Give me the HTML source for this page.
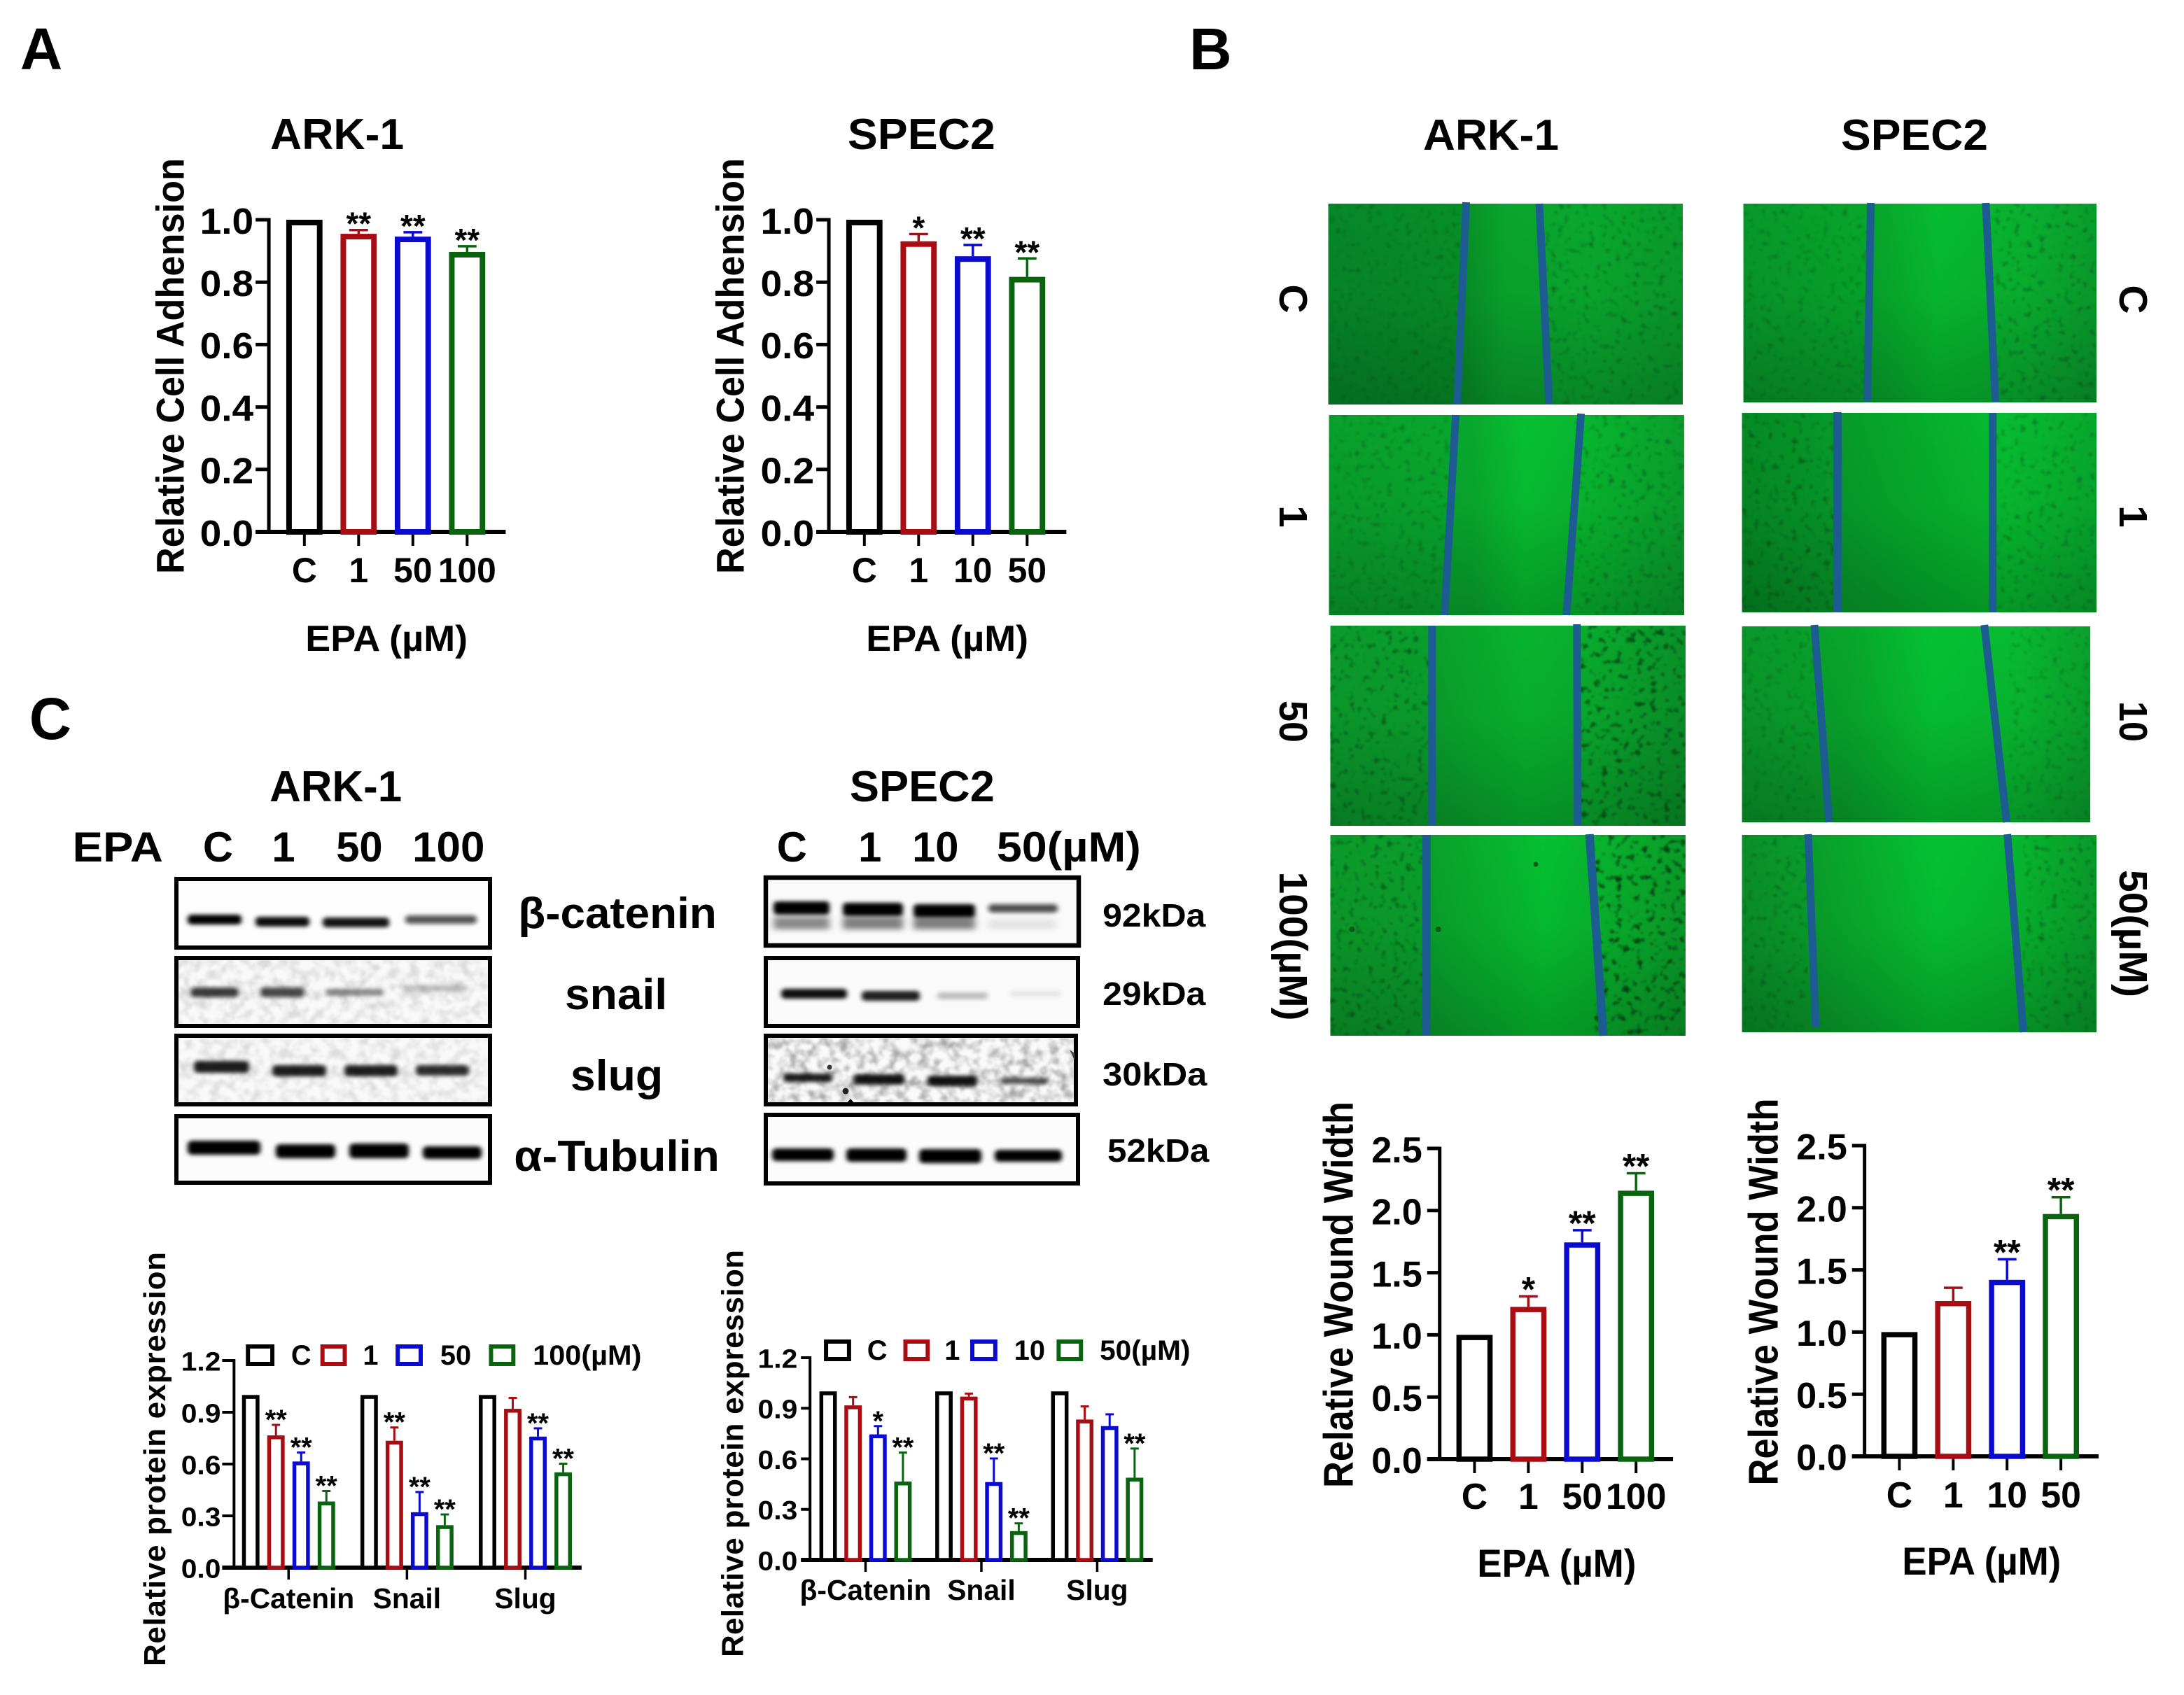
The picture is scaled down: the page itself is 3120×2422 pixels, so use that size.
<!DOCTYPE html>
<html lang="en">
<head>
<meta charset="utf-8">
<title>EPA adhesion, wound healing and EMT protein figure</title>
<style>
html,body{margin:0;padding:0;background:#fff;}
svg{display:block;}
text{font-family:"Liberation Sans",Arial,sans-serif;font-weight:bold;fill:#000;}
</style>
</head>
<body>
<svg id="figure" xmlns="http://www.w3.org/2000/svg" width="3120" height="2422" viewBox="0 0 3120 2422">
<defs>
  <filter id="blur3" x="-30%" y="-150%" width="160%" height="400%"><feGaussianBlur stdDeviation="3.5 2.8"/></filter>
  <filter id="blur7" x="-30%" y="-150%" width="160%" height="400%"><feGaussianBlur stdDeviation="5 4"/></filter>
  <filter id="speck" x="0" y="0" width="1" height="1" color-interpolation-filters="sRGB"><feTurbulence type="fractalNoise" baseFrequency="0.11" numOctaves="2" seed="3"/><feColorMatrix values="0 0 0 0 0  0 0 0 0 .3  0 0 0 0 .08  3.5 0 0 0 -2.05"/><feGaussianBlur stdDeviation="1.3"/></filter>
  <filter id="speckDark" x="0" y="0" width="1" height="1" color-interpolation-filters="sRGB"><feTurbulence type="fractalNoise" baseFrequency="0.1" numOctaves="3" seed="11"/><feColorMatrix values="0 0 0 0 0  0 0 0 0 .25  0 0 0 0 .06  6 0 0 0 -3.5"/><feGaussianBlur stdDeviation="1.3"/></filter>
  <filter id="blotNoise" x="0" y="0" width="1" height="1" color-interpolation-filters="sRGB"><feTurbulence type="fractalNoise" baseFrequency="0.07" numOctaves="3" seed="7"/><feColorMatrix values="0 0 0 0 .35  0 0 0 0 .35  0 0 0 0 .35  2.6 0 0 0 -1.05"/><feGaussianBlur stdDeviation="1.2"/></filter>
  <linearGradient id="shade" x1="0" y1="0" x2="0" y2="1"><stop offset="0" stop-color="#000" stop-opacity="0"/><stop offset=".45" stop-color="#000" stop-opacity=".04"/><stop offset="1" stop-color="#000" stop-opacity=".2"/></linearGradient>
  <linearGradient id="gL1"><stop offset="0" stop-color="#07872a"/><stop offset=".38" stop-color="#078f26"/><stop offset=".5" stop-color="#09a52d"/><stop offset=".75" stop-color="#0aa82e"/><stop offset="1" stop-color="#0a9a2b"/></linearGradient>
  <linearGradient id="gR1"><stop offset="0" stop-color="#08982a"/><stop offset=".4" stop-color="#07a82c"/><stop offset=".55" stop-color="#06bc30"/><stop offset=".8" stop-color="#09b030"/><stop offset="1" stop-color="#0a9c2c"/></linearGradient>
  <linearGradient id="gL2"><stop offset="0" stop-color="#0a9f2c"/><stop offset=".4" stop-color="#08a82e"/><stop offset=".55" stop-color="#07c030"/><stop offset=".75" stop-color="#08b42f"/><stop offset="1" stop-color="#0a9e2c"/></linearGradient>
  <linearGradient id="gR2"><stop offset="0" stop-color="#058a24"/><stop offset=".27" stop-color="#079a2a"/><stop offset=".55" stop-color="#05b02d"/><stop offset=".75" stop-color="#07bc30"/><stop offset="1" stop-color="#08a82e"/></linearGradient>
  <linearGradient id="gL3"><stop offset="0" stop-color="#0b9a2c"/><stop offset=".3" stop-color="#0a9f2c"/><stop offset=".55" stop-color="#07b42f"/><stop offset=".72" stop-color="#09ac2e"/><stop offset="1" stop-color="#0a9028"/></linearGradient>
  <linearGradient id="gR3"><stop offset="0" stop-color="#0a962a"/><stop offset=".3" stop-color="#08a42c"/><stop offset=".55" stop-color="#05c232"/><stop offset=".8" stop-color="#08b831"/><stop offset="1" stop-color="#0aa02c"/></linearGradient>
  <linearGradient id="gL4"><stop offset="0" stop-color="#0c9a2a"/><stop offset=".27" stop-color="#0a9f2c"/><stop offset=".6" stop-color="#05c030"/><stop offset=".75" stop-color="#08b42e"/><stop offset="1" stop-color="#0a9a28"/></linearGradient>
  <linearGradient id="gR4"><stop offset="0" stop-color="#0a8f28"/><stop offset=".22" stop-color="#09a02b"/><stop offset=".55" stop-color="#05c232"/><stop offset=".77" stop-color="#07b62f"/><stop offset="1" stop-color="#0a9a2b"/></linearGradient>
</defs>
<rect width="3120" height="2422" fill="#fff"/>

<!-- Panel B letter and titles -->
<text x="1699" y="99" font-size="84">B</text>
<text x="2130" y="214" font-size="62" text-anchor="middle" textLength="194" lengthAdjust="spacingAndGlyphs">ARK-1</text>
<text x="2735" y="214" font-size="62" text-anchor="middle" textLength="210" lengthAdjust="spacingAndGlyphs">SPEC2</text>

<g transform="scale(.995 1)">
<text x="29" y="99" font-size="84">A</text>
<text x="42" y="1056" font-size="84">C</text>
<text x="484" y="213" font-size="62" text-anchor="middle" textLength="192" lengthAdjust="spacingAndGlyphs">ARK-1</text>
<text x="1323" y="213" font-size="62" text-anchor="middle" textLength="212" lengthAdjust="spacingAndGlyphs">SPEC2</text>
<text x="482" y="1145" font-size="62" text-anchor="middle" textLength="190" lengthAdjust="spacingAndGlyphs">ARK-1</text>
<text x="1324" y="1145" font-size="62" text-anchor="middle" textLength="208" lengthAdjust="spacingAndGlyphs">SPEC2</text>

<text x="104" y="1231" font-size="60" textLength="130" lengthAdjust="spacingAndGlyphs">EPA</text>
<text x="313" y="1231" font-size="60" text-anchor="middle">C</text>
<text x="407" y="1231" font-size="60" text-anchor="middle">1</text>
<text x="516" y="1231" font-size="60" text-anchor="middle">50</text>
<text x="644" y="1231" font-size="60" text-anchor="middle" textLength="104" lengthAdjust="spacingAndGlyphs">100</text>
<text x="1137" y="1231" font-size="60" text-anchor="middle">C</text>
<text x="1249" y="1231" font-size="60" text-anchor="middle">1</text>
<text x="1343" y="1231" font-size="60" text-anchor="middle">10</text>
<text x="1431" y="1231" font-size="60" textLength="207" lengthAdjust="spacingAndGlyphs">50(µM)</text>

<text x="744" y="1326" font-size="62" textLength="285" lengthAdjust="spacingAndGlyphs">β-catenin</text>
<text x="811" y="1442" font-size="62" textLength="147" lengthAdjust="spacingAndGlyphs">snail</text>
<text x="819" y="1558" font-size="62" textLength="133" lengthAdjust="spacingAndGlyphs">slug</text>
<text x="738" y="1673" font-size="62" textLength="295" lengthAdjust="spacingAndGlyphs">α-Tubulin</text>
<text x="1583" y="1324" font-size="46" textLength="148" lengthAdjust="spacingAndGlyphs">92kDa</text>
<text x="1583" y="1436" font-size="46" textLength="148" lengthAdjust="spacingAndGlyphs">29kDa</text>
<text x="1583" y="1551" font-size="46" textLength="150" lengthAdjust="spacingAndGlyphs">30kDa</text>
<text x="1590" y="1660" font-size="46" textLength="146" lengthAdjust="spacingAndGlyphs">52kDa</text>

<g fill="none" stroke-width="6">
  <rect x="356" y="1924" width="35" height="25" stroke="#000"/>
  <rect x="463" y="1924" width="32" height="25" stroke="#a80d14"/>
  <rect x="571" y="1924" width="33" height="25" stroke="#0b0bd0"/>
  <rect x="705" y="1924" width="32" height="25" stroke="#0a640f"/>
  <text x="418" y="1950" font-size="40" stroke="none">C</text>
  <text x="521" y="1950" font-size="40" stroke="none">1</text>
  <text x="632" y="1950" font-size="40" stroke="none">50</text>
  <text x="765" y="1950" font-size="40" stroke="none" textLength="156" lengthAdjust="spacingAndGlyphs">100(µM)</text>
</g>
<g fill="none" stroke-width="6">
  <rect x="1186" y="1917" width="33" height="25" stroke="#000"/>
  <rect x="1300" y="1917" width="32" height="25" stroke="#a80d14"/>
  <rect x="1396" y="1917" width="33" height="25" stroke="#0b0bd0"/>
  <rect x="1520" y="1917" width="32" height="25" stroke="#0a640f"/>
  <text x="1245" y="1943" font-size="40" stroke="none">C</text>
  <text x="1356" y="1943" font-size="40" stroke="none">1</text>
  <text x="1456" y="1943" font-size="40" stroke="none">10</text>
  <text x="1579" y="1943" font-size="40" stroke="none" textLength="130" lengthAdjust="spacingAndGlyphs">50(µM)</text>
</g>

<text transform="translate(264 523) rotate(-90)" font-size="56" text-anchor="middle" textLength="594" lengthAdjust="spacingAndGlyphs">Relative Cell Adhension</text>
<text transform="translate(1068 523) rotate(-90)" font-size="56" text-anchor="middle" textLength="594" lengthAdjust="spacingAndGlyphs">Relative Cell Adhension</text>
<text x="555" y="930" font-size="52" text-anchor="middle" textLength="233" lengthAdjust="spacingAndGlyphs">EPA (µM)</text>
<text x="1360" y="930" font-size="52" text-anchor="middle" textLength="233" lengthAdjust="spacingAndGlyphs">EPA (µM)</text>
<text transform="translate(237 2085) rotate(-90)" font-size="44" text-anchor="middle" textLength="592" lengthAdjust="spacing">Relative protein expression</text>
<text transform="translate(1067 2077) rotate(-90)" font-size="44" text-anchor="middle" textLength="582" lengthAdjust="spacing">Relative protein expression</text>
</g>

<g transform="translate(9 0) scale(.995 1)">
<g>
  <rect x="1898" y="291" width="509" height="287" fill="url(#gL1)"/><rect x="1898" y="291" width="509" height="287" fill="url(#shade)"/>
  <rect x="1898" y="291" width="190" height="287" filter="url(#speck)" opacity=".45"/><rect x="2208" y="291" width="199" height="287" filter="url(#speck)" opacity=".6"/>
  <line x1="2096" y1="289" x2="2083" y2="577" stroke="#1c5c90" stroke-width="11"/><line x1="2201" y1="291" x2="2215" y2="577" stroke="#1c5c90" stroke-width="11"/>
</g>
<g>
  <rect x="1899" y="593" width="510" height="286" fill="url(#gL2)"/><rect x="1899" y="593" width="510" height="286" fill="url(#shade)"/>
  <rect x="1899" y="593" width="175" height="286" filter="url(#speck)" opacity=".5"/><rect x="2252" y="593" width="157" height="286" filter="url(#speck)" opacity=".6"/>
  <line x1="2081" y1="593" x2="2065" y2="879" stroke="#1c5c90" stroke-width="11"/><line x1="2261" y1="591" x2="2240" y2="879" stroke="#1c5c90" stroke-width="11"/>
</g>
<g>
  <rect x="1901" y="894" width="510" height="286" fill="url(#gL3)"/><rect x="1901" y="894" width="510" height="286" fill="url(#shade)"/>
  <rect x="1901" y="894" width="146" height="286" filter="url(#speck)" opacity=".9"/><rect x="2255" y="894" width="156" height="286" filter="url(#speckDark)" opacity=".8"/>
  <line x1="2047" y1="894" x2="2047" y2="1180" stroke="#1c5c90" stroke-width="11"/><line x1="2255" y1="892" x2="2256" y2="1180" stroke="#1c5c90" stroke-width="11"/>
</g>
<g>
  <rect x="1901" y="1193" width="510" height="287" fill="url(#gL4)"/><rect x="1901" y="1193" width="510" height="287" fill="url(#shade)"/>
  <rect x="1901" y="1193" width="138" height="287" filter="url(#speck)" opacity=".95"/><rect x="2280" y="1193" width="131" height="287" filter="url(#speckDark)" opacity=".95"/>
  <circle cx="2196" cy="1235" r="3.5" fill="#055a18"/><circle cx="2056" cy="1328" r="4" fill="#055a18"/><circle cx="1932" cy="1328" r="4" fill="#055a18"/>
  <line x1="2039" y1="1193" x2="2039" y2="1480" stroke="#1c5c90" stroke-width="12"/><line x1="2273" y1="1192" x2="2293" y2="1480" stroke="#1c5c90" stroke-width="12"/>
</g>
<g>
  <rect x="2494" y="291" width="507" height="284" fill="url(#gR1)"/><rect x="2494" y="291" width="507" height="284" fill="url(#shade)"/>
  <rect x="2494" y="291" width="180" height="284" filter="url(#speck)" opacity=".45"/><rect x="2850" y="291" width="151" height="284" filter="url(#speck)" opacity=".65"/>
  <line x1="2677" y1="290" x2="2672" y2="573" stroke="#1c5c90" stroke-width="11"/><line x1="2842" y1="290" x2="2856" y2="575" stroke="#1c5c90" stroke-width="11"/>
</g>
<g>
  <rect x="2492" y="590" width="509" height="285" fill="url(#gR2)"/><rect x="2492" y="590" width="509" height="285" fill="url(#shade)"/>
  <rect x="2492" y="590" width="137" height="285" filter="url(#speck)" opacity=".85"/><rect x="2852" y="590" width="149" height="285" filter="url(#speck)" opacity=".55"/>
  <line x1="2629" y1="589" x2="2629" y2="875" stroke="#1c5c90" stroke-width="12"/><line x1="2852" y1="590" x2="2852" y2="875" stroke="#1c5c90" stroke-width="11"/>
</g>
<g>
  <rect x="2492" y="895" width="500" height="280" fill="url(#gR3)"/><rect x="2492" y="895" width="500" height="280" fill="url(#shade)"/>
  <rect x="2492" y="895" width="105" height="280" filter="url(#speck)" opacity=".45"/><rect x="2875" y="895" width="117" height="280" filter="url(#speck)" opacity=".45"/>
  <line x1="2596" y1="893" x2="2617" y2="1175" stroke="#1c5c90" stroke-width="11"/><line x1="2840" y1="893" x2="2872" y2="1175" stroke="#1c5c90" stroke-width="11"/>
</g>
<g>
  <rect x="2492" y="1193" width="509" height="282" fill="url(#gR4)"/><rect x="2492" y="1193" width="509" height="282" fill="url(#shade)"/>
  <rect x="2492" y="1193" width="94" height="282" filter="url(#speck)" opacity=".6"/><rect x="2895" y="1193" width="106" height="282" filter="url(#speck)" opacity=".7"/>
  <line x1="2587" y1="1192" x2="2598" y2="1468" stroke="#1c5c90" stroke-width="11"/><line x1="2873" y1="1192" x2="2896" y2="1475" stroke="#1c5c90" stroke-width="11"/>
</g>

<text transform="translate(1828 427) rotate(90)" font-size="57" text-anchor="middle">C</text>
<text transform="translate(1828 738) rotate(90)" font-size="57" text-anchor="middle">1</text>
<text transform="translate(1828 1031) rotate(90)" font-size="57" text-anchor="middle" textLength="60" lengthAdjust="spacingAndGlyphs">50</text>
<text transform="translate(1828 1352) rotate(90)" font-size="57" text-anchor="middle" textLength="213" lengthAdjust="spacingAndGlyphs">100(µM)</text>
<text transform="translate(3034 428) rotate(90)" font-size="57" text-anchor="middle">C</text>
<text transform="translate(3034 738) rotate(90)" font-size="57" text-anchor="middle">1</text>
<text transform="translate(3034 1031) rotate(90)" font-size="57" text-anchor="middle" textLength="58" lengthAdjust="spacingAndGlyphs">10</text>
<text transform="translate(3034 1334) rotate(90)" font-size="57" text-anchor="middle" textLength="182" lengthAdjust="spacingAndGlyphs">50(µM)</text>

<text transform="translate(1933 1850) rotate(-90)" font-size="60" text-anchor="middle" textLength="552" lengthAdjust="spacingAndGlyphs">Relative Wound Width</text>
<text transform="translate(2543 1846) rotate(-90)" font-size="60" text-anchor="middle" textLength="553" lengthAdjust="spacingAndGlyphs">Relative Wound Width</text>
<text x="2226" y="2253" font-size="56" text-anchor="middle" textLength="228" lengthAdjust="spacingAndGlyphs">EPA (µM)</text>
<text x="2836" y="2250" font-size="56" text-anchor="middle" textLength="228" lengthAdjust="spacingAndGlyphs">EPA (µM)</text>
</g>

<!-- Blot ARK-1 -->
<g>
  <rect x="252" y="1256" width="448" height="98" fill="#fdfdfd" stroke="#000" stroke-width="6"/>
  <rect x="268" y="1307" width="77" height="14" rx="5" filter="url(#blur3)" fill="#000"/>
  <rect x="365" y="1310" width="77" height="14" rx="5" filter="url(#blur3)" fill="#000" opacity=".95"/>
  <rect x="461" y="1311" width="95" height="14" rx="5" filter="url(#blur3)" fill="#000" opacity=".92"/>
  <rect x="579" y="1308" width="102" height="12" rx="5" filter="url(#blur3)" fill="#111" opacity=".7"/>
</g>
<g>
  <rect x="252" y="1369" width="448" height="97" fill="#f9f9f9" stroke="#000" stroke-width="6"/>
  <rect x="255" y="1372" width="442" height="91" filter="url(#blotNoise)" opacity=".2"/>
  <rect x="272" y="1411" width="69" height="14" rx="5" filter="url(#blur3)" fill="#111" opacity=".8"/>
  <rect x="372" y="1411" width="63" height="14" rx="5" filter="url(#blur3)" fill="#111" opacity=".75"/>
  <rect x="465" y="1413" width="83" height="10" rx="4" filter="url(#blur3)" fill="#222" opacity=".5"/>
  <rect x="579" y="1407" width="89" height="10" rx="4" filter="url(#blur3)" fill="#333" opacity=".28"/>
</g>
<g>
  <rect x="252" y="1480" width="448" height="98" fill="#f9f9f9" stroke="#000" stroke-width="6"/>
  <rect x="255" y="1483" width="442" height="92" filter="url(#blotNoise)" opacity=".18"/>
  <rect x="277" y="1516" width="79" height="17" rx="5" filter="url(#blur3)" fill="#000" opacity=".88"/>
  <rect x="389" y="1522" width="77" height="16" rx="5" filter="url(#blur3)" fill="#000" opacity=".88"/>
  <rect x="492" y="1522" width="76" height="16" rx="5" filter="url(#blur3)" fill="#000" opacity=".88"/>
  <rect x="594" y="1522" width="76" height="15" rx="5" filter="url(#blur3)" fill="#000" opacity=".82"/>
</g>
<g>
  <rect x="252" y="1595" width="448" height="95" fill="#fcfcfc" stroke="#000" stroke-width="6"/>
  <rect x="268" y="1630" width="104" height="20" rx="6" filter="url(#blur3)" fill="#000"/>
  <rect x="394" y="1635" width="85" height="20" rx="6" filter="url(#blur3)" fill="#000"/>
  <rect x="499" y="1634" width="85" height="21" rx="6" filter="url(#blur3)" fill="#000"/>
  <rect x="604" y="1638" width="84" height="18" rx="6" filter="url(#blur3)" fill="#000"/>
</g>

<!-- Blot SPEC2 -->
<g>
  <rect x="1094" y="1254" width="447" height="97" fill="#fafafa" stroke="#000" stroke-width="6.5"/>
  <rect x="1105" y="1310" width="80" height="18" filter="url(#blur7)" fill="#444" opacity=".62"/>
  <rect x="1204" y="1310" width="86" height="18" filter="url(#blur7)" fill="#444" opacity=".68"/>
  <rect x="1305" y="1310" width="88" height="18" filter="url(#blur7)" fill="#444" opacity=".68"/>
  <rect x="1412" y="1314" width="96" height="14" filter="url(#blur7)" fill="#777" opacity=".18"/>
  <rect x="1105" y="1288" width="80" height="19" rx="5" filter="url(#blur3)" fill="#000"/>
  <rect x="1204" y="1290" width="86" height="19" rx="5" filter="url(#blur3)" fill="#000"/>
  <rect x="1305" y="1292" width="88" height="19" rx="5" filter="url(#blur3)" fill="#000"/>
  <rect x="1412" y="1292" width="99" height="12" rx="5" filter="url(#blur3)" fill="#111" opacity=".72"/>
</g>
<g>
  <rect x="1094" y="1369" width="446" height="97" fill="#fafafa" stroke="#000" stroke-width="6"/>
  <rect x="1116" y="1413" width="94" height="14" rx="5" filter="url(#blur3)" fill="#000" opacity=".95"/>
  <rect x="1231" y="1416" width="83" height="14" rx="5" filter="url(#blur3)" fill="#000" opacity=".88"/>
  <rect x="1339" y="1418" width="72" height="10" rx="4" filter="url(#blur3)" fill="#333" opacity=".3"/>
  <rect x="1443" y="1416" width="72" height="8" rx="3" filter="url(#blur3)" fill="#555" opacity=".13"/>
</g>
<g>
  <rect x="1094" y="1480" width="443" height="98" fill="#fafafa" stroke="#000" stroke-width="6"/>
  <rect x="1097" y="1483" width="437" height="92" filter="url(#blotNoise)" opacity=".5"/>
  <rect x="1119" y="1534" width="70" height="12" rx="4" filter="url(#blur3)" fill="#000" opacity=".88"/>
  <rect x="1220" y="1535" width="72" height="15" rx="4" filter="url(#blur3)" fill="#000" opacity=".92"/>
  <rect x="1325" y="1537" width="71" height="15" rx="4" filter="url(#blur3)" fill="#000" opacity=".92"/>
  <rect x="1429" y="1540" width="68" height="9" rx="3" filter="url(#blur3)" fill="#111" opacity=".72"/>
  <circle cx="1185" cy="1525" r="3.5" fill="#333"/>
  <circle cx="1208" cy="1559" r="4.5" fill="#222"/>
  <path d="M1208 1578 L1215 1570 L1222 1578 Z" fill="#000"/>
  <path d="M1528 1500 L1535 1505 L1535 1515 Z" fill="#444"/>
</g>
<g>
  <rect x="1094" y="1593" width="446" height="98" fill="#fcfcfc" stroke="#000" stroke-width="6"/>
  <rect x="1103" y="1641" width="88" height="18" rx="6" filter="url(#blur3)" fill="#000"/>
  <rect x="1209" y="1641" width="86" height="19" rx="6" filter="url(#blur3)" fill="#000"/>
  <rect x="1313" y="1642" width="89" height="20" rx="6" filter="url(#blur3)" fill="#000"/>
  <rect x="1421" y="1643" width="96" height="17" rx="6" filter="url(#blur3)" fill="#000"/>
</g>

<g id="charts"></g>
</svg>

<script>
// Adhesion charts
const adhesionTicks = ['0.0', '0.2', '0.4', '0.6', '0.8', '1.0'];
const adhesionArkCategories = ['C', '1', '50', '100'];
const adhesionArkValues = [1, 0.955, 0.946, 0.897];
const adhesionArkErrors = [0, 0.012, 0.014, 0.018];
const adhesionArkStars = ['', '**', '**', '**'];
const adhesionSpecCategories = ['C', '1', '10', '50'];
const adhesionSpecValues = [1, 0.931, 0.883, 0.817];
const adhesionSpecErrors = [0, 0.023, 0.036, 0.059];
const adhesionSpecStars = ['', '*', '**', '**'];

// Wound width charts
const woundTicks = ['0.0', '0.5', '1.0', '1.5', '2.0', '2.5'];
const woundArkCategories = ['C', '1', '50', '100'];
const woundArkValues = [1, 1.225, 1.744, 2.16];
const woundArkErrors = [0, 0.085, 0.098, 0.14];
const woundArkStars = ['', '*', '**', '**'];
const woundSpecCategories = ['C', '1', '10', '50'];
const woundSpecValues = [1, 1.25, 1.42, 1.95];
const woundSpecErrors = [0, 0.106, 0.166, 0.135];
const woundSpecStars = ['', '', '**', '**'];

// Protein expression charts
const proteinTicks = ['0.0', '0.3', '0.6', '0.9', '1.2'];
const proteinGroups = ['β-Catenin', 'Snail', 'Slug'];
const proteinArkControl = [1, 1, 1];
const proteinArkLow = [0.766, 0.735, 0.92];
const proteinArkMid = [0.615, 0.321, 0.759];
const proteinArkHigh = [0.383, 0.246, 0.552];
const proteinArkLowErr = [0.061, 0.077, 0.063];
const proteinArkMidErr = [0.052, 0.117, 0.048];
const proteinArkHighErr = [0.061, 0.062, 0.05];
const proteinArkLowStars = ['**', '**', ''];
const proteinArkMidStars = ['**', '**', '**'];
const proteinArkHighStars = ['**', '**', '**'];
const proteinSpecControl = [1, 1, 1];
const proteinSpecLow = [0.917, 0.969, 0.833];
const proteinSpecMid = [0.745, 0.462, 0.794];
const proteinSpecHigh = [0.465, 0.171, 0.488];
const proteinSpecLowErr = [0.049, 0.018, 0.078];
const proteinSpecMidErr = [0.049, 0.14, 0.07];
const proteinSpecHighErr = [0.172, 0.046, 0.173];
const proteinSpecLowStars = ['', '', ''];
const proteinSpecMidStars = ['*', '**', ''];
const proteinSpecHighStars = ['**', '**', '**'];

const seriesColors = ['#000000', '#a80d14', '#0b0bd0', '#0a640f'];
const SVGNS = 'http://www.w3.org/2000/svg';
const chartsRoot = document.getElementById('charts');

function shape(parent, tag, attrs, content) {
  const el = document.createElementNS(SVGNS, tag);
  for (const k in attrs) el.setAttribute(k, attrs[k]);
  if (content !== undefined) el.textContent = content;
  parent.appendChild(el);
  return el;
}

function drawAxes(g, axis) {
  const y = v => axis.yZero - (v / axis.yMax) * (axis.yZero - axis.yTop);
  const yLine = shape(g, 'line', { x1: axis.axisX, x2: axis.axisX, y1: axis.yTop - axis.axisStroke / 2, y2: axis.yZero, stroke: '#000', 'stroke-width': axis.axisStroke });
  
  
  const xLine = shape(g, 'line', { x1: axis.baseLeft, x2: axis.baseRight, y1: axis.yZero, y2: axis.yZero, stroke: '#000', 'stroke-width': axis.baseStroke });
  
  
  axis.ticks.forEach(label => {
    const v = parseFloat(label);
    const t = shape(g, 'line', { x1: axis.baseLeft, x2: axis.axisX, y1: y(v), y2: y(v), stroke: '#000', 'stroke-width': axis.axisStroke });
    
    
    const txt = shape(g, 'text', { x: axis.tickLabelEnd, y: y(v) + axis.tickSize * 0.38, 'font-size': axis.tickSize, 'text-anchor': 'end', textLength: axis.tickLabelWidth, lengthAdjust: 'spacingAndGlyphs' }, label);
    
    
  });
  return y;
}

function drawXTick(g, axis, x, label) {
  const t = shape(g, 'line', { x1: x, x2: x, y1: axis.yZero, y2: axis.yZero + axis.xTickLen, stroke: '#000', 'stroke-width': axis.xTickStroke });
  
  
  const txt = shape(g, 'text', { x: x, y: axis.xLabelY, 'font-size': axis.xLabelSize, 'text-anchor': 'middle' }, label);
  
  
}

function drawBar(g, axis, y, cx, value, err, star, color) {
  const top = y(value);
  const capY = y(value + err);
  if (err > 0) {
    const stem = shape(g, 'line', { x1: cx, x2: cx, y1: top, y2: capY, stroke: color, 'stroke-width': axis.errStroke });
    
    
    const cap = shape(g, 'line', { x1: cx - axis.capW / 2, x2: cx + axis.capW / 2, y1: capY, y2: capY, stroke: color, 'stroke-width': axis.errStroke });
    
    
  }
  const bar = shape(g, 'rect', { x: cx - axis.barW / 2 + axis.barStroke / 2, y: top + axis.barStroke / 2, width: axis.barW - axis.barStroke, height: axis.yZero - top - axis.barStroke / 2, fill: '#fff', stroke: color, 'stroke-width': axis.barStroke });
  
  
  if (star) {
    const s = shape(g, 'text', { x: cx, y: capY + axis.starOffset, 'font-size': axis.starSize, 'text-anchor': 'middle' }, star);
    
    
  }
}

function drawSimpleChart(name, axis, categories, values, errors, stars) {
  const g = shape(chartsRoot, 'g', { transform: axis.frame });
  
  
  const y = drawAxes(g, axis);
  const x = i => axis.firstX + i * axis.stepX;
  categories.forEach((label, i) => drawXTick(g, axis, x(i), label));
  values.forEach((v, i) => drawBar(g, axis, y, x(i), v, errors[i], stars[i], seriesColors[i]));
}

function drawGroupedChart(name, axis, groups, series, errors, stars) {
  const g = shape(chartsRoot, 'g', { transform: axis.frame });
  
  
  const y = drawAxes(g, axis);
  const barX = (gi, si) => axis.firstX + gi * axis.groupStep + si * axis.barStep;
  groups.forEach((label, gi) => drawXTick(g, axis, barX(gi, 1.5), label));
  series.forEach((vals, si) => {
    vals.forEach((v, gi) => {
      const e = errors[si] ? errors[si][gi] : 0;
      const st = stars[si] ? stars[si][gi] : '';
      drawBar(g, axis, y, barX(gi, si), v, e, st, seriesColors[si]);
    });
  });
}

const adhesionStyle = { frame: 'scale(.995 1)', yMax: 1, yZero: 760, yTop: 314, axisStroke: 5, baseStroke: 6, tickSize: 52, tickLabelWidth: 77, xTickLen: 20, xTickStroke: 4, xLabelY: 832, xLabelSize: 50, stepX: 77.9, barW: 52, barStroke: 8, capW: 27, errStroke: 3.5, starOffset: 7, starSize: 46, ticks: adhesionTicks };
drawSimpleChart('adhesion-ark-chart', Object.assign({}, adhesionStyle, { axisX: 386, baseLeft: 367, baseRight: 726, tickLabelEnd: 364, firstX: 437 }), adhesionArkCategories, adhesionArkValues, adhesionArkErrors, adhesionArkStars);
drawSimpleChart('adhesion-spec-chart', Object.assign({}, adhesionStyle, { axisX: 1190, baseLeft: 1172, baseRight: 1531, tickLabelEnd: 1169, firstX: 1241 }), adhesionSpecCategories, adhesionSpecValues, adhesionSpecErrors, adhesionSpecStars);

const woundStyle = { frame: 'translate(9 0) scale(.995 1)', yMax: 2.5, axisStroke: 5, baseStroke: 6, tickSize: 52, tickLabelWidth: 73, xTickLen: 20, xTickStroke: 4, xLabelSize: 52, stepX: 77.3, barW: 52, barStroke: 7.5, capW: 27, errStroke: 3.5, starOffset: 7, starSize: 50, ticks: woundTicks };
drawSimpleChart('wound-ark-chart', Object.assign({}, woundStyle, { yZero: 2085, yTop: 1641, axisX: 2058, baseLeft: 2040, baseRight: 2393, tickLabelEnd: 2033, firstX: 2108, xLabelY: 2156 }), woundArkCategories, woundArkValues, woundArkErrors, woundArkStars);
drawSimpleChart('wound-spec-chart', Object.assign({}, woundStyle, { yZero: 2081, yTop: 1637, axisX: 2668, baseLeft: 2650, baseRight: 3004, tickLabelEnd: 2643, firstX: 2718, xLabelY: 2154 }), woundSpecCategories, woundSpecValues, woundSpecErrors, woundSpecStars);

const proteinStyle = { frame: 'scale(.995 1)', yMax: 1.2, axisStroke: 4, baseStroke: 6, tickSize: 38, tickLabelWidth: 57, xTickLen: 17, xTickStroke: 3.5, xLabelSize: 41, barW: 25, barStroke: 5.5, capW: 12, errStroke: 3, starOffset: 6, starSize: 40, ticks: proteinTicks };
drawGroupedChart('protein-ark-chart', Object.assign({}, proteinStyle, { yZero: 2240, yTop: 1944, axisX: 336, baseLeft: 319, baseRight: 835, tickLabelEnd: 317, firstX: 360, barStep: 36.2, groupStep: 170, xLabelY: 2298 }), proteinGroups,
  [proteinArkControl, proteinArkLow, proteinArkMid, proteinArkHigh],
  [null, proteinArkLowErr, proteinArkMidErr, proteinArkHighErr],
  [null, proteinArkLowStars, proteinArkMidStars, proteinArkHighStars]);
drawGroupedChart('protein-spec-chart', Object.assign({}, proteinStyle, { yZero: 2229, yTop: 1940, axisX: 1163, baseLeft: 1150, baseRight: 1655, tickLabelEnd: 1145, firstX: 1189, barStep: 35.8, groupStep: 166.3, xLabelY: 2286 }), proteinGroups,
  [proteinSpecControl, proteinSpecLow, proteinSpecMid, proteinSpecHigh],
  [null, proteinSpecLowErr, proteinSpecMidErr, proteinSpecHighErr],
  [null, proteinSpecLowStars, proteinSpecMidStars, proteinSpecHighStars]);
</script>
</body>
</html>
